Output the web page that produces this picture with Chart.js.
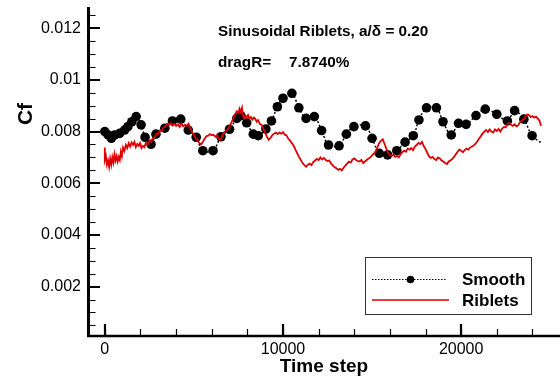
<!DOCTYPE html>
<html>
<head>
<meta charset="utf-8">
<title>Cf history</title>
<script src="https://cdn.jsdelivr.net/npm/chart.js@4/dist/chart.umd.min.js"></script>
<style>
  html, body { margin: 0; padding: 0; background: #fff; }
  #wrap { width: 560px; height: 381px; }
</style>
</head>
<body>
<div id="wrap"><canvas id="cfChart" width="560" height="381"></canvas></div>
<script>
// skin friction history, smooth wall (sampled with markers)
const smoothSteps = [0, 185, 370, 555, 833, 1111, 1296, 1518, 1759, 2037, 2259, 2593, 2870, 3370, 3796, 4259,
  4685, 5130, 5500, 6074, 6518, 7000, 7407, 7630, 7963, 8333, 8611, 9037, 9352, 9685, 10000, 10500,
  10889, 11296, 11759, 12167, 12556, 13148, 13556, 13981, 14630, 15000, 15407, 15870, 16389, 16852,
  17315, 17630, 18056, 18611, 18981, 19444, 19852, 20278, 20833, 21352, 22000, 22593, 23000, 23519,
  23981, 24481];
const smoothCf = [0.00800, 0.00787, 0.00774, 0.00787, 0.00793, 0.00806, 0.00819, 0.00838, 0.00858, 0.00826,
  0.00778, 0.00751, 0.00790, 0.00813, 0.00841, 0.00848, 0.00806, 0.00778, 0.00726, 0.00726, 0.00780,
  0.00809, 0.00851, 0.00862, 0.00834, 0.00790, 0.00784, 0.00810, 0.00841, 0.00896, 0.00929, 0.00948,
  0.00892, 0.00851, 0.00858, 0.00804, 0.00748, 0.00745, 0.00790, 0.00819, 0.00822, 0.00774, 0.00716,
  0.00710, 0.00726, 0.00759, 0.00784, 0.00845, 0.00892, 0.00892, 0.00838, 0.00787, 0.00832, 0.00828,
  0.00862, 0.00887, 0.00867, 0.00841, 0.00881, 0.00848, 0.00784, null];
// the last smooth sample has no marker, only the trailing line
const smoothTailCf = 0.00757;

// skin friction history, riblet wall
const ribletSteps = [0, 0, 60, 120, 180, 240, 300, 360, 420, 480, 540, 600, 660, 720, 780, 840, 900, 960, 1020,
  1100, 1180, 1260, 1340, 1420, 1500, 1580, 1660, 1740, 1820, 1900, 1980, 2060, 2140, 2220, 2300, 2400,
  2500, 2600, 2700, 2800, 2900, 3000, 3100, 3200, 3300, 3400, 3500, 3600, 3700, 3800, 3900, 4000, 4100,
  4200, 4300, 4400, 4500, 4600, 4700, 4800, 4900, 5000, 5100, 5200, 5300, 5400, 5500, 5600, 5700, 5800,
  5900, 6000, 6100, 6200, 6300, 6400, 6500, 6600, 6700, 6800, 6900, 7000, 7100, 7200, 7300, 7400, 7500,
  7560, 7620, 7700, 7760, 7820, 7880, 7960, 8040, 8120, 8200, 8280, 8360, 8440, 8520, 8600, 8700, 8800,
  8900, 9000, 9100, 9200, 9300, 9400, 9500, 9600, 9700, 9800, 9900, 10000, 10100, 10200, 10300, 10400,
  10500, 10600, 10700, 10800, 10900, 11000, 11100, 11200, 11300, 11400, 11500, 11600, 11700, 11800,
  11900, 12000, 12100, 12200, 12300, 12400, 12500, 12600, 12700, 12800, 12900, 13000, 13100, 13200,
  13300, 13400, 13500, 13600, 13700, 13800, 13900, 14000, 14100, 14200, 14300, 14400, 14500, 14600,
  14700, 14800, 14900, 15000, 15100, 15200, 15300, 15400, 15500, 15600, 15700, 15800, 15900, 16000,
  16100, 16200, 16300, 16400, 16500, 16600, 16700, 16800, 16900, 17000, 17100, 17200, 17300, 17400,
  17500, 17600, 17700, 17800, 17900, 18000, 18100, 18200, 18300, 18400, 18500, 18600, 18700, 18800,
  18900, 19000, 19100, 19200, 19300, 19400, 19500, 19600, 19700, 19800, 19900, 20000, 20100, 20200,
  20300, 20400, 20500, 20600, 20700, 20800, 20900, 21000, 21100, 21200, 21300, 21400, 21500, 21600,
  21700, 21800, 21900, 22000, 22100, 22200, 22300, 22400, 22500, 22600, 22700, 22800, 22900, 23000,
  23100, 23200, 23300, 23400, 23500, 23600, 23700, 23800, 23900, 24000, 24100, 24200, 24300, 24400,
  24480, 24540];
const ribletCf = [0.00738, 0.00690, 0.00705, 0.00672, 0.00688, 0.00664, 0.00695, 0.00672, 0.00700, 0.00680,
  0.00712, 0.00688, 0.00705, 0.00684, 0.00702, 0.00690, 0.00722, 0.00705, 0.00738, 0.00725, 0.00748,
  0.00736, 0.00755, 0.00742, 0.00758, 0.00748, 0.00760, 0.00740, 0.00752, 0.00745, 0.00755, 0.00736,
  0.00745, 0.00740, 0.00756, 0.00750, 0.00765, 0.00760, 0.00775, 0.00778, 0.00792, 0.00790, 0.00805,
  0.00803, 0.00816, 0.00820, 0.00830, 0.00826, 0.00832, 0.00824, 0.00830, 0.00822, 0.00828, 0.00818,
  0.00832, 0.00820, 0.00826, 0.00822, 0.00830, 0.00812, 0.00798, 0.00788, 0.00775, 0.00765, 0.00756,
  0.00750, 0.00760, 0.00772, 0.00782, 0.00784, 0.00790, 0.00786, 0.00788, 0.00780, 0.00786, 0.00770,
  0.00768, 0.00785, 0.00798, 0.00802, 0.00808, 0.00820, 0.00835, 0.00848, 0.00866, 0.00878, 0.00872,
  0.00888, 0.00876, 0.00892, 0.00860, 0.00852, 0.00862, 0.00855, 0.00864, 0.00850, 0.00856, 0.00846,
  0.00854, 0.00850, 0.00838, 0.00844, 0.00830, 0.00826, 0.00810, 0.00795, 0.00780, 0.00768, 0.00775,
  0.00786, 0.00792, 0.00796, 0.00790, 0.00796, 0.00792, 0.00798, 0.00788, 0.00785, 0.00772, 0.00765,
  0.00755, 0.00745, 0.00730, 0.00716, 0.00702, 0.00690, 0.00678, 0.00670, 0.00664, 0.00672, 0.00676,
  0.00670, 0.00682, 0.00688, 0.00694, 0.00690, 0.00700, 0.00692, 0.00698, 0.00690, 0.00686, 0.00688,
  0.00676, 0.00668, 0.00662, 0.00658, 0.00652, 0.00656, 0.00650, 0.00660, 0.00668, 0.00676, 0.00684,
  0.00680, 0.00692, 0.00696, 0.00690, 0.00686, 0.00684, 0.00690, 0.00678, 0.00684, 0.00690, 0.00696,
  0.00700, 0.00708, 0.00714, 0.00724, 0.00740, 0.00756, 0.00764, 0.00770, 0.00752, 0.00734, 0.00718,
  0.00710, 0.00706, 0.00710, 0.00702, 0.00706, 0.00700, 0.00712, 0.00720, 0.00726, 0.00722, 0.00734,
  0.00730, 0.00736, 0.00728, 0.00742, 0.00748, 0.00756, 0.00752, 0.00760, 0.00744, 0.00732, 0.00718,
  0.00704, 0.00698, 0.00702, 0.00694, 0.00690, 0.00700, 0.00696, 0.00688, 0.00684, 0.00678, 0.00674,
  0.00684, 0.00688, 0.00694, 0.00702, 0.00712, 0.00722, 0.00730, 0.00726, 0.00720, 0.00728, 0.00734,
  0.00730, 0.00738, 0.00742, 0.00746, 0.00752, 0.00762, 0.00772, 0.00782, 0.00792, 0.00800, 0.00806,
  0.00798, 0.00808, 0.00800, 0.00796, 0.00808, 0.00802, 0.00810, 0.00800, 0.00812, 0.00818, 0.00816,
  0.00830, 0.00834, 0.00826, 0.00822, 0.00828, 0.00820, 0.00824, 0.00836, 0.00842, 0.00848, 0.00858,
  0.00866, 0.00864, 0.00856, 0.00860, 0.00854, 0.00858, 0.00850, 0.00842, 0.00822];

const xTicks = [0, 10000, 20000];
const yTicks = [0.002, 0.004, 0.006, 0.008, 0.01, 0.012];
const xMinorStep = 2000;
const yMinorStep = 0.0005;

const caseLabel = 'Sinusoidal Riblets, a/\u03b4 = 0.20';
const dragLabel = 'dragR=';
const dragValue = '7.8740%';

const FONT = "'Liberation Sans', Arial, Helvetica, sans-serif";

const smoothPoints = smoothSteps.map((s, i) => ({ x: s, y: smoothCf[i] === null ? smoothTailCf : smoothCf[i] }));
const smoothRadius = smoothCf.map(v => (v === null ? 0 : 4.8));
const ribletPoints = ribletSteps.map((s, i) => ({ x: s, y: ribletCf[i] }));

// inward tick marks, plain L-shaped axes, annotation text and the boxed legend
const framePlugin = {
  id: 'frame',
  afterDatasetsDraw(chart) {
    const { ctx, chartArea: a, scales: { x, y } } = chart;
    ctx.save();
    ctx.strokeStyle = '#000';

    // minor ticks
    ctx.lineWidth = 1.2;
    ctx.beginPath();
    for (let v = yMinorStep; v <= y.max; v += yMinorStep) {
      const py = Math.round(y.getPixelForValue(v)) + 0.5;
      if (py > a.bottom - 2) continue;
      ctx.moveTo(a.left, py);
      ctx.lineTo(a.left + 7.5, py);
    }
    for (let v = Math.ceil(x.min / xMinorStep) * xMinorStep; v <= x.max; v += xMinorStep) {
      const px = Math.round(x.getPixelForValue(v)) + 0.5;
      if (px < a.left + 3) continue;
      ctx.moveTo(px, a.bottom);
      ctx.lineTo(px, a.bottom - 7);
    }
    ctx.stroke();

    // major ticks
    ctx.lineWidth = 2.2;
    ctx.beginPath();
    yTicks.forEach(v => {
      const py = Math.round(y.getPixelForValue(v));
      ctx.moveTo(a.left, py);
      ctx.lineTo(a.left + 12, py);
    });
    xTicks.forEach(v => {
      const px = Math.round(x.getPixelForValue(v));
      ctx.moveTo(px, a.bottom);
      ctx.lineTo(px, a.bottom - 12);
    });
    ctx.stroke();

    // axis lines
    ctx.lineWidth = 3;
    ctx.beginPath();
    ctx.moveTo(a.left + 0.5, a.top);
    ctx.lineTo(a.left + 0.5, a.bottom + 1);
    ctx.stroke();
    ctx.lineWidth = 2.5;
    ctx.beginPath();
    ctx.moveTo(a.left - 1, a.bottom);
    ctx.lineTo(chart.width, a.bottom);
    ctx.stroke();

    // axis titles
    ctx.fillStyle = '#000';
    ctx.font = `bold 19px ${FONT}`;
    ctx.textAlign = 'center';
    ctx.textBaseline = 'alphabetic';
    ctx.fillText('Time step', (a.left + chart.width) / 2, 372);
    ctx.save();
    ctx.translate(32, 114);
    ctx.rotate(-Math.PI / 2);
    ctx.font = `bold 21px ${FONT}`;
    ctx.fillText('Cf', 0, 0);
    ctx.restore();

    // case annotation
    ctx.textAlign = 'left';
    ctx.textBaseline = 'middle';
    ctx.font = `bold 15.3px ${FONT}`;
    ctx.fillText(caseLabel, 218, 32);
    ctx.fillText(dragLabel, 218, 63);
    ctx.fillText(dragValue, 289, 63);

    // legend
    const [smoothSet, ribletSet] = chart.data.datasets;
    ctx.lineWidth = 1;
    ctx.strokeStyle = '#333';
    ctx.strokeRect(365.5, 257.5, 166, 57);

    ctx.strokeStyle = smoothSet.borderColor;
    ctx.lineWidth = 1;
    ctx.setLineDash([1.5, 1.5]);
    ctx.beginPath();
    ctx.moveTo(372, 279.5);
    ctx.lineTo(447, 279.5);
    ctx.stroke();
    ctx.setLineDash([]);
    ctx.fillStyle = smoothSet.pointBackgroundColor;
    ctx.beginPath();
    ctx.arc(410.5, 279.5, 3.8, 0, Math.PI * 2);
    ctx.fill();

    ctx.strokeStyle = ribletSet.borderColor;
    ctx.lineWidth = 1.5;
    ctx.beginPath();
    ctx.moveTo(372, 300);
    ctx.lineTo(449, 300);
    ctx.stroke();

    ctx.fillStyle = '#000';
    ctx.font = `bold 17px ${FONT}`;
    ctx.fillText(smoothSet.label, 462, 280);
    ctx.fillText(ribletSet.label, 462, 301);
    ctx.restore();
  }
};

new Chart(document.getElementById('cfChart'), {
  type: 'line',
  data: {
    datasets: [{
      label: 'Smooth',
      data: smoothPoints,
      borderColor: '#000',
      borderWidth: 1.5,
      borderDash: [2, 2],
      pointRadius: smoothRadius,
      pointBackgroundColor: '#000',
      pointBorderWidth: 0,
      tension: 0.35,
      order: 1
    }, {
      label: 'Riblets',
      data: ribletPoints,
      borderColor: '#dd0000',
      borderWidth: 1.8,
      pointRadius: 0,
      tension: 0,
      order: 0
    }]
  },
  options: {
    responsive: false,
    animation: false,
    events: [],
    layout: { padding: { top: 7, left: 0, right: 0, bottom: 0 } },
    plugins: { legend: { display: false }, tooltip: { enabled: false } },
    scales: {
      x: {
        type: 'linear',
        min: -944,
        max: 25278,
        grid: { display: false, drawTicks: false },
        border: { display: false },
        afterBuildTicks: scale => { scale.ticks = xTicks.map(v => ({ value: v })); },
        afterFit: scale => { scale.height = 45; scale.paddingLeft = 0; scale.paddingRight = 0; },
        ticks: {
          color: '#000',
          padding: 4,
          maxRotation: 0,
          font: { family: FONT, size: 16 },
          callback: v => String(v)
        }
      },
      y: {
        type: 'linear',
        min: 0.00009,
        max: 0.01282,
        grid: { display: false, drawTicks: false },
        border: { display: false },
        afterBuildTicks: scale => { scale.ticks = yTicks.map(v => ({ value: v })); },
        afterFit: scale => { scale.width = 88; scale.paddingTop = 0; scale.paddingBottom = 0; },
        ticks: {
          color: '#000',
          padding: 7,
          font: { family: FONT, size: 16 },
          callback: v => String(v)
        }
      }
    }
  },
  plugins: [framePlugin]
});
</script>
</body>
</html>
